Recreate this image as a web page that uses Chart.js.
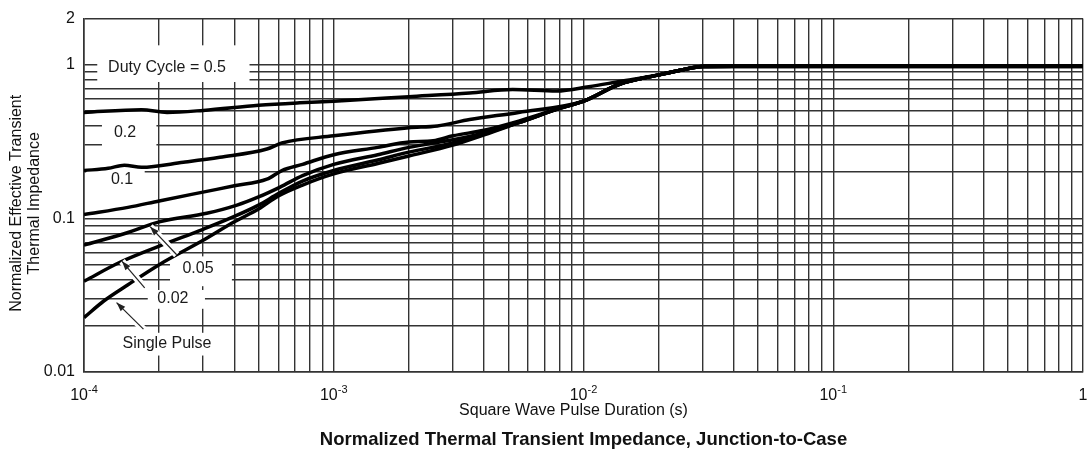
<!DOCTYPE html>
<html>
<head>
<meta charset="utf-8">
<script src="https://cdn.jsdelivr.net/npm/chart.js@4.4.1/dist/chart.umd.min.js"></script>
<style>
html, body { margin: 0; padding: 0; background: #fff; }
#wrap { width: 1088px; height: 453px; }
</style>
</head>
<body>
<div id="wrap"><canvas id="chart" width="1088" height="453"></canvas></div>
<script>
// pulse duration (s) and normalized impedance
const tDuty05 = [1e-4, 1.7e-4, 2.15e-4, 3e-4, 5e-4, 7.3e-4, 1e-3, 2e-3, 3.5e-3, 5.2e-3, 7.8e-3, 1.05e-2, 1.4e-2, 2e-2, 2.5e-2, 3e-2, 4e-2, 1];
const zDuty05 = [0.49, 0.51, 0.49, 0.505, 0.545, 0.566, 0.58, 0.62, 0.655, 0.69, 0.675, 0.72, 0.78, 0.86, 0.93, 0.98, 0.985, 0.985];

const tDuty02 = [1e-4, 1.25e-4, 1.45e-4, 1.7e-4, 2.5e-4, 3.5e-4, 5.4e-4, 6.2e-4, 1e-3, 2e-3, 2.6e-3, 3.5e-3, 5.5e-3, 1e-2, 1.4e-2, 2e-2, 2.5e-2, 3e-2, 4e-2, 1];
const zDuty02 = [0.205, 0.212, 0.222, 0.215, 0.232, 0.25, 0.283, 0.31, 0.345, 0.39, 0.40, 0.44, 0.49, 0.58, 0.75, 0.86, 0.93, 0.975, 0.98, 0.98];

const tDuty01 = [1e-4, 1.5e-4, 2e-4, 3.1e-4, 4e-4, 5.4e-4, 6.2e-4, 7.5e-4, 1e-3, 1.5e-3, 2e-3, 2.5e-3, 3e-3, 4e-3, 5.5e-3, 8e-3, 1e-2, 1.4e-2, 2e-2, 2.5e-2, 3e-2, 4e-2, 1];
const zDuty01 = [0.106, 0.118, 0.13, 0.15, 0.163, 0.18, 0.205, 0.225, 0.26, 0.29, 0.315, 0.32, 0.345, 0.375, 0.43, 0.52, 0.58, 0.75, 0.86, 0.93, 0.975, 0.98, 0.98];

const tDuty005 = [1e-4, 1.5e-4, 2e-4, 3.1e-4, 4.1e-4, 5e-4, 6.1e-4, 7.5e-4, 1e-3, 1.5e-3, 2e-3, 3e-3, 4e-3, 5.5e-3, 8e-3, 1e-2, 1.4e-2, 2e-2, 2.5e-2, 3e-2, 4e-2, 1];
const zDuty005 = [0.067, 0.081, 0.095, 0.108, 0.122, 0.138, 0.16, 0.19, 0.225, 0.26, 0.29, 0.325, 0.36, 0.42, 0.52, 0.58, 0.75, 0.86, 0.93, 0.975, 0.975, 0.975];

const tDuty002 = [1e-4, 1.4e-4, 2e-4, 3e-4, 4e-4, 5e-4, 6e-4, 7.5e-4, 1e-3, 1.5e-3, 2e-3, 3e-3, 4e-3, 5.5e-3, 8e-3, 1e-2, 1.4e-2, 2e-2, 2.5e-2, 3e-2, 4e-2, 1];
const zDuty002 = [0.039, 0.052, 0.066, 0.085, 0.103, 0.122, 0.145, 0.175, 0.205, 0.24, 0.27, 0.31, 0.355, 0.42, 0.52, 0.58, 0.75, 0.86, 0.93, 0.975, 0.975, 0.975];

const tSingle = [1e-4, 1.2e-4, 1.5e-4, 2e-4, 3e-4, 4e-4, 5e-4, 6e-4, 7.5e-4, 1e-3, 1.5e-3, 2e-3, 3e-3, 4e-3, 5.5e-3, 8e-3, 1e-2, 1.4e-2, 2e-2, 2.5e-2, 3e-2, 4e-2, 1];
const zSingle = [0.0226, 0.029, 0.037, 0.05, 0.072, 0.095, 0.115, 0.14, 0.165, 0.195, 0.228, 0.255, 0.30, 0.35, 0.42, 0.52, 0.58, 0.75, 0.86, 0.93, 0.975, 0.98, 0.98];

// axis ticks: x labels are 10 with a raised exponent
const xMajorTicks = [1e-4, 1e-3, 1e-2, 1e-1, 1];
const xTickBase = ['10', '10', '10', '10', '1'];
const xTickExp = ['-4', '-3', '-2', '-1', ''];
const yMajorTicks = [0.01, 0.1, 1, 2];
const yTickLabels = ['0.01', '0.1', '1', '2'];

// curve labels (text anchor in data units) and the white boxes behind them
const labelTexts = ['Duty Cycle = 0.5', '0.2', '0.1', '0.05', '0.02', 'Single Pulse'];
const labelT = [2.15e-4, 1.46e-4, 1.42e-4, 2.86e-4, 2.27e-4, 2.15e-4];
const labelZ = [0.96, 0.363, 0.178, 0.0474, 0.0299, 0.0153];
const boxT0 = [1.13e-4, 1.18e-4, 1.02e-4, 2.21e-4, 1.8e-4, 1.33e-4];
const boxT1 = [4.6e-4, 1.95e-4, 1.75e-4, 3.91e-4, 3.05e-4, 3.43e-4];
const boxZ0 = [0.773, 0.25, 0.138, 0.0362, 0.0258, 0.0128];
const boxZ1 = [1.34, 0.453, 0.206, 0.0566, 0.0342, 0.018];

// leader arrows: tail -> head
const arrowFromT = [2.35e-4, 1.75e-4, 1.73e-4];
const arrowFromZ = [0.058, 0.0353, 0.019];
const arrowToT = [1.84e-4, 1.42e-4, 1.35e-4];
const arrowToZ = [0.0884, 0.0526, 0.0283];

const xTitle = 'Square Wave Pulse Duration (s)';
const yTitleLines = ['Normalized Effective Transient', 'Thermal Impedance'];

function zip(xs, ys) {
    return xs.map((v, i) => ({ x: v, y: ys[i] }));
}

// every 1..9 multiple inside a log range, used for the grid
function logGrid(min, max) {
    const out = [];
    for (let e = Math.floor(Math.log10(min)); e <= Math.ceil(Math.log10(max)); e++) {
        for (let m = 1; m <= 9; m++) {
            const v = Number((m * Math.pow(10, e)).toPrecision(3));
            if (v >= min - 1e-12 && v <= max + 1e-12) out.push(v);
        }
    }
    return out;
}

function majorLabel(value, majors, labels) {
    for (let i = 0; i < majors.length; i++) {
        if (Math.abs(Math.log10(value) - Math.log10(majors[i])) < 1e-6) return labels[i];
    }
    return '';
}

const FONT = '"Liberation Sans", Arial, Helvetica, sans-serif';

const labelPlugin = {
    id: 'curveLabels',
    beforeDatasetsDraw(chart) {
        const { ctx, scales: { x, y } } = chart;
        ctx.save();
        ctx.fillStyle = '#fff';
        for (let i = 0; i < labelTexts.length; i++) {
            const x0 = x.getPixelForValue(boxT0[i]);
            const x1 = x.getPixelForValue(boxT1[i]);
            const y0 = y.getPixelForValue(boxZ1[i]);
            const y1 = y.getPixelForValue(boxZ0[i]);
            ctx.fillRect(x0, y0, x1 - x0, y1 - y0);
        }
        ctx.restore();
    },
    afterDatasetsDraw(chart) {
        const { ctx, scales: { x, y } } = chart;
        ctx.save();
        for (let i = 0; i < arrowFromT.length; i++) {
            const x0 = x.getPixelForValue(arrowFromT[i]);
            const y0 = y.getPixelForValue(arrowFromZ[i]);
            const x1 = x.getPixelForValue(arrowToT[i]);
            const y1 = y.getPixelForValue(arrowToZ[i]);
            // white halo cuts the curves and grid like the original
            ctx.strokeStyle = '#fff';
            ctx.lineWidth = 7;
            ctx.beginPath();
            ctx.moveTo(x0, y0);
            ctx.lineTo(x1, y1);
            ctx.stroke();

            ctx.strokeStyle = '#222';
            ctx.lineWidth = 1.2;
            ctx.beginPath();
            ctx.moveTo(x0, y0);
            ctx.lineTo(x1, y1);
            ctx.stroke();

            const ang = Math.atan2(y1 - y0, x1 - x0);
            const len = 9, half = 3.2;
            ctx.fillStyle = '#222';
            ctx.beginPath();
            ctx.moveTo(x1, y1);
            ctx.lineTo(x1 - len * Math.cos(ang) + half * Math.sin(ang), y1 - len * Math.sin(ang) - half * Math.cos(ang));
            ctx.lineTo(x1 - len * Math.cos(ang) - half * Math.sin(ang), y1 - len * Math.sin(ang) + half * Math.cos(ang));
            ctx.closePath();
            ctx.fill();
        }

        ctx.fillStyle = '#1a1a1a';
        ctx.font = '16px ' + FONT;
        ctx.textAlign = 'center';
        ctx.textBaseline = 'middle';
        for (let i = 0; i < labelTexts.length; i++) {
            ctx.fillText(labelTexts[i], x.getPixelForValue(labelT[i]), y.getPixelForValue(labelZ[i]));
        }
        ctx.restore();
    },
    afterDraw(chart) {
        const { ctx, chartArea, scales: { x } } = chart;
        ctx.save();
        ctx.fillStyle = '#111';
        ctx.textBaseline = 'alphabetic';
        // x tick labels with superscript exponent
        const baseY = chartArea.bottom + 28;
        for (let i = 0; i < xMajorTicks.length; i++) {
            const px = x.getPixelForValue(xMajorTicks[i]);
            ctx.font = '16px ' + FONT;
            const wb = ctx.measureText(xTickBase[i]).width;
            ctx.font = '11px ' + FONT;
            const we = ctx.measureText(xTickExp[i]).width;
            const left = px - (wb + we) / 2;
            ctx.textAlign = 'left';
            ctx.font = '16px ' + FONT;
            ctx.fillText(xTickBase[i], left, baseY);
            ctx.font = '11px ' + FONT;
            ctx.fillText(xTickExp[i], left + wb, baseY - 7);
        }
        // x title sits a little left of the plot centre in the original
        ctx.font = '16px ' + FONT;
        ctx.textAlign = 'center';
        ctx.textBaseline = 'middle';
        ctx.fillText(xTitle, (chartArea.left + chartArea.right) / 2 - 10, chartArea.bottom + 39);
        // two-line y title, rotated
        const cy = (chartArea.top + chartArea.bottom) / 2 + 8;
        const lineX = [17, 35];
        for (let i = 0; i < yTitleLines.length; i++) {
            ctx.save();
            ctx.translate(lineX[i], cy);
            ctx.rotate(-Math.PI / 2);
            ctx.fillText(yTitleLines[i], 0, 0);
            ctx.restore();
        }
        ctx.restore();
    }
};

const curves = [
    [tDuty05, zDuty05, 'D = 0.5'],
    [tDuty02, zDuty02, 'D = 0.2'],
    [tDuty01, zDuty01, 'D = 0.1'],
    [tDuty005, zDuty005, 'D = 0.05'],
    [tDuty002, zDuty002, 'D = 0.02'],
    [tSingle, zSingle, 'Single Pulse']
];

const xGrid = logGrid(1e-4, 1);
const yGrid = logGrid(0.01, 2);

new Chart(document.getElementById('chart'), {
    type: 'line',
    data: {
        datasets: curves.map(([t, z, name]) => ({
            label: name,
            data: zip(t, z),
            borderColor: '#000',
            borderWidth: 3.5,
            pointRadius: 0,
            fill: false,
            cubicInterpolationMode: 'monotone'
        }))
    },
    options: {
        responsive: false,
        devicePixelRatio: 1,
        animation: false,
        layout: { padding: { top: 14, right: 5, left: 0, bottom: 0 } },
        plugins: {
            legend: { display: false },
            tooltip: { enabled: false },
            title: {
                display: true,
                position: 'bottom',
                fullSize: false,
                text: 'Normalized Thermal Transient Impedance, Junction-to-Case',
                color: '#111',
                font: { family: FONT, size: 18.5, weight: 'bold', lineHeight: 1.2 },
                padding: { top: 4, bottom: 2 }
            }
        },
        scales: {
            x: {
                type: 'logarithmic',
                min: 1e-4,
                max: 1,
                afterBuildTicks: (scale) => { scale.ticks = xGrid.map(v => ({ value: v })); },
                afterFit: (scale) => { scale.height = 52.8; },
                ticks: {
                    autoSkip: false,
                    maxRotation: 0,
                    padding: 0,
                    callback: () => ''
                },
                grid: { color: '#333', lineWidth: 1.4, drawTicks: false },
                border: { display: true, color: '#333', width: 1.6 },
                title: { display: false }
            },
            y: {
                type: 'logarithmic',
                min: 0.01,
                max: 2,
                afterBuildTicks: (scale) => { scale.ticks = yGrid.map(v => ({ value: v })); },
                afterFit: (scale) => { scale.width = 84; },
                ticks: {
                    autoSkip: false,
                    padding: 9,
                    color: '#111',
                    font: { family: FONT, size: 16 },
                    callback: (v) => majorLabel(v, yMajorTicks, yTickLabels)
                },
                grid: { color: '#333', lineWidth: 1.4, drawTicks: false },
                border: { display: true, color: '#333', width: 1.6 },
                title: { display: false }
            }
        }
    },
    plugins: [labelPlugin]
});
</script>
</body>
</html>
